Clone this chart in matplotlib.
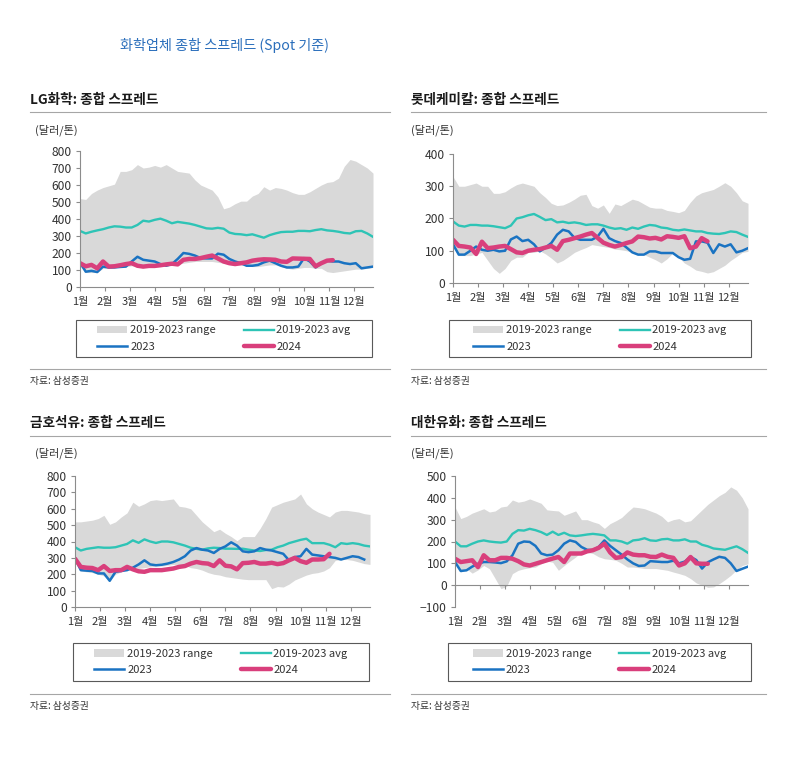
#!/usr/bin/env python3
'''
Weekly spread charts (Spot basis) for four Korean chemical companies:
2019-2023 range, 2019-2023 average, 2023 and 2024.
Saves the figure to out.png.
'''

import numpy as np
import matplotlib
matplotlib.use('Agg')
from matplotlib import pyplot as plt
from matplotlib.lines import Line2D
from matplotlib.patches import Rectangle

plt.rcParams['font.family'] = ['Noto Sans CJK KR', 'DejaVu Sans']

MONTH_LABELS = ['1월', '2월', '3월', '4월', '5월', '6월',
                '7월', '8월', '9월', '10월', '11월', '12월']
LEGEND_LABELS = ['2019-2023 range', '2019-2023 avg', '2023', '2024']
MAIN_TITLE = '화학업체 종합 스프레드 (Spot 기준)'
UNIT_LABEL = '(달러/톤)'
SOURCE_LABEL = '자료: 삼성증권'

# weekly values, $/ton
LG_TITLE = 'LG화학: 종합 스프레드'
LG_UPPER = [520, 515, 550, 570, 585, 595, 605, 680, 680, 690, 720, 700, 705,
            715, 705, 720, 700, 680, 675, 670, 630, 600, 585, 570, 530, 460,
            470, 490, 505, 505, 535, 550, 590, 570, 585, 580, 570, 555, 545,
            545, 560, 580, 600, 615, 620, 640, 710, 750, 740, 720, 700, 670]
LG_LOWER = [120, 85, 85, 85, 110, 110, 115, 115, 120, 125, 125, 125, 125,
            125, 125, 125, 130, 135, 140, 145, 150, 150, 150, 150, 145, 140,
            135, 130, 130, 125, 120, 120, 125, 130, 130, 120, 110, 105, 110,
            115, 115, 110, 110, 90, 85, 90, 95, 100, 105, 105, 110, 115]
LG_AVG = [330, 315, 325, 333, 340, 350, 357, 355, 350, 350, 365, 390, 385,
          395, 402, 390, 375, 383, 378, 373, 365, 355, 345, 343, 348, 343,
          320, 312, 310, 305, 310, 300, 290, 305, 315, 323, 325, 325, 330,
          330, 328, 335, 340, 333, 330, 325, 318, 315, 328, 330, 315, 295]
LG_2023 = [145, 90, 95, 88, 120, 115, 115, 118, 120, 150, 178, 160, 155,
           150, 135, 125, 135, 165, 200, 195, 185, 170, 168, 168, 196, 190,
           165, 150, 140, 125, 125, 130, 145, 155, 140, 125, 115, 115, 120,
           170, 150, 115, 140, 155, 150, 150, 140, 135, 140, 110, 115, 120]
LG_2024 = [140, 122, 130, 110, 150, 120, 122, 128, 135, 140, 125, 120, 124,
           124, 128, 133, 137, 133, 160, 165, 165, 170, 178, 185, 168, 150,
           140, 135, 140, 145, 155, 160, 163, 162, 160, 150, 148, 168, 167,
           166, 165, 122, 140, 155, 158]

LOTTE_TITLE = '롯데케미칼: 종합 스프레드'
LOTTE_UPPER = [330, 300, 300, 305, 310, 300, 300, 278, 278, 283, 295, 305,
               310, 305, 300, 280, 265, 247, 240, 242, 250, 260, 272, 275,
               240, 232, 242, 216, 245, 240, 250, 260, 255, 245, 235, 232,
               232, 225, 222, 218, 225, 250, 270, 280, 285, 290, 300, 311,
               300, 280, 255, 247]
LOTTE_LOWER = [110, 85, 85, 85, 90, 95, 70, 45, 30, 45, 70, 80, 80, 95, 95,
               100, 90, 77, 62, 70, 82, 95, 103, 110, 119, 116, 113, 110, 105,
               103, 100, 95, 90, 88, 80, 72, 62, 75, 93, 80, 62, 52, 40, 36,
               31, 35, 45, 55, 70, 82, 95, 98]
LOTTE_AVG = [191, 178, 175, 180, 180, 178, 178, 176, 173, 170, 178, 200, 204,
             210, 214, 205, 195, 198, 188, 190, 186, 188, 185, 180, 182, 182,
             178, 172, 168, 170, 165, 172, 168, 175, 180, 178, 172, 170, 165,
             163, 166, 163, 160, 160, 155, 153, 152, 155, 160, 158, 150, 143]
LOTTE_2023 = [120, 88, 88, 100, 113, 103, 100, 103, 98, 100, 135, 144, 130,
              134, 120, 98, 110, 124, 150, 165, 160, 140, 134, 134, 134, 144,
              168, 139, 130, 124, 110, 95, 88, 88, 98, 98, 93, 93, 93, 80, 72,
              75, 129, 129, 125, 93, 120, 113, 120, 95, 100, 108]
LOTTE_2024 = [134, 115, 113, 110, 90, 128, 108, 110, 113, 115, 105, 95, 93,
              100, 103, 105, 110, 115, 103, 130, 134, 139, 144, 150, 155, 140,
              125, 118, 113, 118, 124, 129, 144, 142, 138, 140, 135, 145, 143,
              140, 145, 108, 113, 139, 129]

KUMHO_TITLE = '금호석유: 종합 스프레드'
KUMHO_UPPER = [520, 520, 525, 530, 540, 560, 505, 520, 550, 575, 640, 615,
               630, 650, 655, 650, 655, 660, 615, 610, 600, 560, 520, 490,
               460, 475, 450, 430, 405, 430, 430, 430, 480, 540, 610, 625,
               640, 650, 660, 690, 630, 600, 580, 565, 550, 580, 590, 590,
               585, 580, 570, 565]
KUMHO_LOWER = [270, 220, 215, 210, 200, 190, 160, 200, 215, 230, 245, 235,
               240, 245, 250, 250, 255, 260, 260, 255, 240, 235, 225, 210,
               200, 195, 185, 180, 175, 170, 167, 167, 167, 167, 112, 125,
               122, 140, 165, 180, 195, 205, 210, 220, 240, 285, 290, 290,
               285, 275, 265, 260]
KUMHO_AVG = [365, 345, 355, 360, 365, 362, 362, 365, 375, 385, 407, 392, 413,
             400, 391, 400, 400, 395, 385, 375, 362, 355, 350, 358, 362, 360,
             356, 356, 355, 356, 350, 345, 342, 348, 350, 365, 375, 390, 400,
             410, 417, 390, 390, 390, 380, 365, 390, 385, 390, 385, 375, 370]
KUMHO_2023 = [300, 225, 222, 220, 205, 205, 160, 215, 220, 225, 240, 260,
              285, 260, 255, 258, 265, 275, 290, 310, 345, 360, 350, 345, 330,
              355, 370, 395, 375, 340, 335, 340, 360, 350, 345, 335, 325, 285,
              305, 310, 355, 320, 315, 310, 305, 300, 290, 300, 310, 305, 290]
KUMHO_2024 = [295, 245, 240, 238, 225, 250, 220, 225, 225, 245, 230, 218,
              215, 225, 225, 225, 230, 235, 245, 250, 265, 275, 268, 265, 250,
              285, 252, 248, 230, 268, 270, 275, 265, 265, 270, 262, 268, 285,
              300, 280, 270, 290, 290, 292, 325]

DAEHAN_TITLE = '대한유화: 종합 스프레드'
DAEHAN_UPPER = [358, 305, 315, 330, 340, 350, 335, 340, 358, 362, 390, 380,
                385, 395, 385, 375, 345, 342, 340, 320, 330, 340, 300, 300,
                290, 282, 260, 282, 295, 310, 335, 358, 355, 350, 340, 330,
                315, 290, 300, 305, 290, 295, 320, 345, 370, 390, 410, 425,
                450, 435, 400, 350]
DAEHAN_LOWER = [98, 60, 75, 55, 70, 90, 75, 30, -16, -5, 53, 68, 75, 80, 83,
                98, 110, 105, 68, 90, 110, 129, 152, 150, 145, 130, 121, 118,
                114, 100, 83, 83, 80, 76, 76, 76, 72, 68, 60, 53, 45, 30, 10,
                0, -10, -8, 7, 25, 45, 70, 90, 98]
DAEHAN_AVG = [200, 178, 178, 190, 200, 205, 200, 197, 195, 200, 235, 252, 250,
              258, 252, 243, 230, 245, 230, 240, 228, 225, 228, 232, 235, 232,
              228, 205, 205, 200, 190, 205, 208, 215, 205, 203, 210, 212, 205,
              205, 210, 200, 200, 185, 178, 168, 165, 162, 170, 178, 165, 148]
DAEHAN_2023 = [106, 65, 68, 85, 98, 106, 106, 104, 101, 109, 137, 190, 200,
               198, 180, 145, 137, 140, 160, 190, 205, 198, 175, 162, 160, 175,
               205, 180, 160, 140, 118, 100, 88, 90, 110, 108, 106, 106, 112,
               100, 108, 130, 115, 76, 105, 118, 130, 125, 100, 65, 75, 85]
DAEHAN_2024 = [121, 106, 110, 114, 83, 137, 114, 114, 125, 125, 121, 110, 95,
               90, 98, 106, 114, 122, 129, 106, 145, 145, 145, 155, 160, 171,
               190, 150, 125, 129, 150, 140, 137, 137, 130, 129, 140, 130, 125,
               90, 100, 129, 100, 98, 98]

PANELS = [
    # title, upper, lower, avg, 2023, 2024, y range, y step, position
    (LG_TITLE, LG_UPPER, LG_LOWER, LG_AVG, LG_2023, LG_2024,
     (0, 800), 100, 'top-left'),
    (LOTTE_TITLE, LOTTE_UPPER, LOTTE_LOWER, LOTTE_AVG, LOTTE_2023, LOTTE_2024,
     (0, 400), 100, 'top-right'),
    (KUMHO_TITLE, KUMHO_UPPER, KUMHO_LOWER, KUMHO_AVG, KUMHO_2023, KUMHO_2024,
     (0, 800), 100, 'bottom-left'),
    (DAEHAN_TITLE, DAEHAN_UPPER, DAEHAN_LOWER, DAEHAN_AVG, DAEHAN_2023,
     DAEHAN_2024, (-100, 500), 100, 'bottom-right'),
]

# pixel layout of each panel (figure is 800 x 759)
LAYOUT = {
    'top-left': dict(x0=30, x1=390, title_y=100, rule_y=112, unit_x=35,
                     unit_y=130, ax=(80, 151, 373, 287),
                     box=(76, 320, 372, 357), src_rule_y=369, src_y=381),
    'top-right': dict(x0=411, x1=766, title_y=100, rule_y=112, unit_x=411,
                      unit_y=130, ax=(453, 154, 748, 283),
                      box=(449, 320, 751, 357), src_rule_y=369, src_y=381),
    'bottom-left': dict(x0=30, x1=390, title_y=423, rule_y=436, unit_x=35,
                        unit_y=453, ax=(75, 476, 370, 607),
                        box=(73, 643, 369, 681), src_rule_y=694, src_y=706),
    'bottom-right': dict(x0=411, x1=766, title_y=423, rule_y=436, unit_x=411,
                         unit_y=453, ax=(455, 476, 748, 607),
                         box=(448, 643, 751, 681), src_rule_y=694, src_y=706),
}

COLOR_RANGE = '#d9d9d9'
COLOR_AVG = '#2ec4b6'
COLOR_2023 = '#1a73c2'
COLOR_2024 = '#d93f7c'
COLOR_TEXT = '#333333'
COLOR_AXIS = '#8c8c8c'

W, H = 800, 759


def fx(px):
    return px / W


def fy(py):
    return 1 - py / H


def draw_panel(fig, title, upper, lower, avg, s2023, s2024, ylim, ystep, pos):
    lay = LAYOUT[pos]

    fig.text(fx(lay['x0']), fy(lay['title_y']), title, fontsize=9.8,
             fontweight='bold', color='#1a1a1a', va='center', ha='left')
    fig.add_artist(Line2D([fx(lay['x0']), fx(lay['x1'])],
                          [fy(lay['rule_y'])] * 2, color='#a6a6a6', lw=0.8))
    fig.text(fx(lay['unit_x']), fy(lay['unit_y']), UNIT_LABEL, fontsize=8,
             color=COLOR_TEXT, va='center', ha='left')

    left, top, right, bottom = lay['ax']
    ax = fig.add_axes([fx(left), fy(bottom), fx(right - left),
                       (bottom - top) / H])

    weeks = np.arange(len(upper))
    rng = ax.fill_between(weeks, lower, upper, color=COLOR_RANGE, lw=0)
    l_avg, = ax.plot(np.arange(len(avg)), avg, color=COLOR_AVG, lw=1.7)
    l_23, = ax.plot(np.arange(len(s2023)), s2023, color=COLOR_2023, lw=1.8)
    l_24, = ax.plot(np.arange(len(s2024)), s2024, color=COLOR_2024, lw=3.2,
                    solid_capstyle='round')

    ax.set_xlim(0, 51)
    ax.set_ylim(*ylim)
    ax.set_xticks(np.arange(12) * 52 / 12)
    ax.set_xticklabels(MONTH_LABELS)
    ax.set_yticks(np.arange(ylim[0], ylim[1] + 1, ystep))
    ax.tick_params(axis='both', colors=COLOR_AXIS, labelcolor=COLOR_TEXT,
                   length=3, width=0.8)
    ax.tick_params(axis='x', labelsize=8, pad=4)
    ax.tick_params(axis='y', labelsize=8.7, pad=3)
    for side in ('top', 'right'):
        ax.spines[side].set_visible(False)
    for side in ('left', 'bottom'):
        ax.spines[side].set_color(COLOR_AXIS)
        ax.spines[side].set_linewidth(0.8)
    if ylim[0] < 0:
        # x axis sits on the zero line, month labels stay below the plot
        ax.spines['bottom'].set_position(('data', 0))
        gap_pt = (0 - ylim[0]) / (ylim[1] - ylim[0]) * (bottom - top) * 0.72
        ax.tick_params(axis='x', pad=4 + gap_pt)
    ax.patch.set_visible(False)

    bx0, by0, bx1, by1 = lay['box']
    fig.add_artist(Rectangle((fx(bx0), fy(by1)), fx(bx1 - bx0),
                             (by1 - by0) / H, fill=False,
                             edgecolor='#595959', lw=0.8))
    # ncol=2 fills by column: range/2023 left, avg/2024 right
    leg = fig.legend([rng, l_23, l_avg, l_24],
                     [LEGEND_LABELS[0], LEGEND_LABELS[2],
                      LEGEND_LABELS[1], LEGEND_LABELS[3]],
                     loc='center',
                     bbox_to_anchor=(fx((bx0 + bx1) / 2), fy((by0 + by1) / 2)),
                     ncol=2, frameon=False, fontsize=8, handlelength=2.7,
                     handletextpad=0.25, columnspacing=2.5, labelspacing=0.55,
                     borderpad=0)
    for text in leg.get_texts():
        text.set_color(COLOR_TEXT)

    fig.add_artist(Line2D([fx(lay['x0']), fx(lay['x1'])],
                          [fy(lay['src_rule_y'])] * 2, color='#a6a6a6',
                          lw=0.8))
    fig.text(fx(lay['x0']), fy(lay['src_y']), SOURCE_LABEL, fontsize=7,
             color=COLOR_TEXT, va='center', ha='left')
    return ax


if __name__ == '__main__':
    fig = plt.figure(figsize=(W / 100, H / 100), dpi=100)
    fig.patch.set_facecolor('white')

    fig.text(fx(224), fy(45), MAIN_TITLE, fontsize=10.2, color='#2a6ebb',
             ha='center', va='center')

    for panel in PANELS:
        draw_panel(fig, *panel)

    fig.savefig('out.png', dpi=100, facecolor='white')
